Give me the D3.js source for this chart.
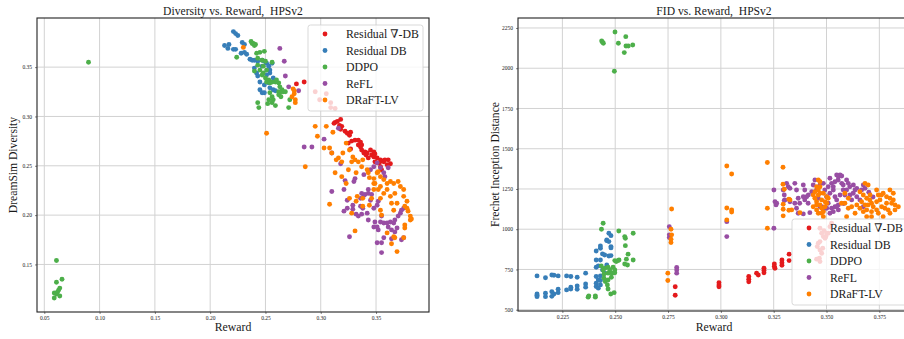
<!DOCTYPE html>
<html>
<head>
<meta charset="utf-8">
<script src="https://cdn.jsdelivr.net/npm/d3@7"></script>
<style>
  html, body { margin: 0; padding: 0; background: #fff; }
  svg { display: block; }
  text { font-family: "Liberation Serif", "DejaVu Serif", serif; fill: #1a1a1a; }
</style>
</head>
<body>
<svg id="chart" width="904" height="339"></svg>
<script>
// ---------- series names and colours ----------
const seriesNames = ["Residual \u2207-DB", "Residual DB", "DDPO", "ReFL", "DRaFT-LV"];
const seriesColors = ["#e41a1c", "#377eb8", "#4daf4a", "#984ea3", "#ff7f00"];

// ---------- Diversity vs. Reward: [reward, DreamSim diversity] ----------
const divResGradDB = [
  [0.278,0.333],[0.285,0.335],[0.295,0.325],[0.305,0.323],[0.299,0.317],[0.309,0.314],[0.309,0.309],[0.313,0.308],
  [0.318,0.297],[0.315,0.295],[0.313,0.294],[0.312,0.293],[0.317,0.291],[0.319,0.290],[0.318,0.287],[0.322,0.285],
  [0.324,0.283],[0.327,0.284],[0.326,0.281],[0.325,0.273],[0.328,0.275],[0.331,0.276],[0.334,0.276],[0.336,0.274],
  [0.334,0.271],[0.337,0.271],[0.336,0.269],[0.327,0.267],[0.337,0.266],[0.340,0.264],[0.339,0.263],[0.341,0.261],
  [0.342,0.263],[0.345,0.266],[0.348,0.264],[0.346,0.261],[0.349,0.262],[0.348,0.259],[0.351,0.258],[0.354,0.256],
  [0.355,0.255],[0.353,0.253],[0.357,0.254],[0.361,0.256],[0.363,0.252],[0.360,0.251],[0.343,0.258],[0.354,0.249],
  [0.355,0.246],[0.349,0.254],[0.351,0.253],[0.358,0.256]
];
const divResDB = [
  [0.221,0.386],[0.223,0.384],[0.225,0.382],[0.213,0.372],[0.217,0.373],[0.221,0.368],[0.223,0.368],[0.229,0.375],
  [0.231,0.373],[0.228,0.364],[0.231,0.365],[0.233,0.363],[0.236,0.358],[0.238,0.357],[0.240,0.357],[0.243,0.356],
  [0.247,0.357],[0.249,0.356],[0.251,0.354],[0.253,0.351],[0.254,0.347],[0.240,0.349],[0.242,0.344],[0.243,0.341],
  [0.245,0.335],[0.251,0.342],[0.254,0.344],[0.257,0.339],[0.245,0.327],[0.247,0.324],[0.249,0.324],[0.254,0.329],
  [0.257,0.327],[0.259,0.326],[0.253,0.334],[0.249,0.332],[0.247,0.351],[0.256,0.354],[0.216,0.369]
];
const divDDPO = [
  [0.090,0.355],[0.061,0.154],[0.061,0.132],[0.066,0.135],[0.064,0.126],[0.063,0.124],[0.059,0.121],[0.061,0.120],
  [0.064,0.118],[0.059,0.116],[0.062,0.122],
  [0.237,0.376],[0.238,0.374],[0.240,0.372],[0.239,0.374],[0.241,0.373],[0.224,0.360],[0.242,0.364],[0.245,0.365],
  [0.249,0.366],[0.243,0.359],[0.247,0.357],[0.250,0.356],[0.256,0.355],[0.240,0.346],[0.243,0.352],[0.248,0.351],
  [0.251,0.347],[0.245,0.347],[0.247,0.342],[0.248,0.344],[0.250,0.339],[0.251,0.335],[0.253,0.337],[0.254,0.334],
  [0.256,0.335],[0.259,0.335],[0.262,0.334],[0.260,0.337],[0.263,0.330],[0.265,0.327],[0.266,0.325],[0.268,0.325],
  [0.263,0.324],[0.262,0.325],[0.254,0.324],[0.256,0.320],[0.253,0.317],[0.257,0.317],[0.243,0.314],[0.244,0.309],
  [0.252,0.313],[0.256,0.314],[0.259,0.311],[0.271,0.309],[0.264,0.320],[0.262,0.322],[0.272,0.317]
];
const divReFL = [
  [0.263,0.369],[0.267,0.356],[0.268,0.341],[0.271,0.330],[0.280,0.326],[0.285,0.269],[0.292,0.269],[0.303,0.277],
  [0.310,0.263],[0.316,0.288],[0.318,0.252],[0.322,0.235],[0.321,0.226],[0.324,0.215],[0.321,0.204],[0.310,0.224],
  [0.326,0.178],[0.324,0.207],[0.329,0.206],[0.329,0.210],[0.332,0.201],[0.334,0.199],[0.336,0.209],[0.338,0.207],
  [0.336,0.217],[0.339,0.220],[0.343,0.222],[0.346,0.221],[0.345,0.215],[0.348,0.207],[0.349,0.193],[0.351,0.188],
  [0.352,0.185],[0.354,0.193],[0.357,0.192],[0.360,0.192],[0.363,0.193],[0.366,0.192],[0.351,0.172],[0.355,0.172],
  [0.355,0.162],[0.357,0.177],[0.364,0.185],[0.367,0.183],[0.369,0.187],[0.373,0.175],[0.375,0.177],[0.337,0.201],
  [0.342,0.202],[0.343,0.195],[0.351,0.210],[0.352,0.214],[0.355,0.199],[0.361,0.188],[0.367,0.195],[0.370,0.199],
  [0.372,0.202],[0.373,0.205],[0.375,0.207],[0.348,0.188],[0.337,0.222],[0.340,0.221],[0.343,0.226],[0.330,0.234],
  [0.331,0.237],[0.339,0.241],[0.345,0.246],[0.348,0.249],[0.351,0.253],[0.354,0.248],[0.357,0.243],[0.358,0.239],
  [0.361,0.248],[0.364,0.176]
];
const divDRaFT = [
  [0.230,0.370],[0.275,0.328],[0.276,0.323],[0.274,0.320],[0.277,0.317],[0.277,0.314],[0.276,0.326],[0.251,0.283],
  [0.286,0.249],[0.295,0.290],[0.305,0.290],[0.297,0.280],[0.303,0.268],[0.311,0.284],[0.308,0.268],[0.314,0.256],
  [0.320,0.263],[0.323,0.273],[0.326,0.266],[0.329,0.259],[0.328,0.254],[0.325,0.246],[0.313,0.243],[0.319,0.239],
  [0.323,0.232],[0.332,0.243],[0.337,0.249],[0.338,0.256],[0.342,0.246],[0.344,0.238],[0.348,0.232],[0.351,0.243],
  [0.354,0.239],[0.354,0.229],[0.357,0.222],[0.360,0.226],[0.363,0.234],[0.363,0.219],[0.364,0.212],[0.366,0.205],
  [0.367,0.222],[0.369,0.212],[0.372,0.229],[0.375,0.219],[0.376,0.209],[0.378,0.214],[0.379,0.204],[0.381,0.195],
  [0.376,0.190],[0.376,0.187],[0.366,0.178],[0.367,0.177],[0.364,0.171],[0.360,0.182],[0.369,0.163],[0.331,0.184],
  [0.328,0.202],[0.338,0.209],[0.332,0.214],[0.308,0.211],[0.344,0.210],[0.326,0.217],[0.333,0.219],[0.346,0.217],
  [0.354,0.205],[0.355,0.200],[0.378,0.207],[0.381,0.199],[0.382,0.196],[0.375,0.177],[0.310,0.263],[0.316,0.258],
  [0.319,0.254],[0.331,0.256],[0.334,0.254],[0.343,0.243],[0.348,0.237],[0.352,0.244],[0.349,0.232],[0.357,0.236],
  [0.360,0.232],[0.366,0.232],[0.370,0.234],[0.375,0.226],[0.348,0.226],[0.352,0.226],[0.338,0.217],[0.354,0.217]
];

// ---------- FID vs. Reward: [reward, Frechet Inception Distance] ----------
const fidResGradDB = [
  [0.2784,643],[0.2784,590],[0.2991,668],[0.2991,653],[0.2991,643],[0.3132,706],[0.3132,689],[0.3132,674],
  [0.3169,727],[0.3177,716],[0.3204,758],[0.3204,743],[0.3204,730],[0.3253,784],[0.3253,768],[0.3256,758],
  [0.3289,809],[0.3289,792],[0.3289,776],[0.3323,845],[0.3323,805],
  [0.3469,1006],[0.3477,975],[0.3485,954],[0.3469,923],[0.3461,913],[0.3456,892],[0.3469,871],[0.3482,882],
  [0.3493,944],[0.3497,954],[0.3501,975],[0.3488,991],[0.3477,851],[0.3466,820],[0.3453,814],[0.3469,799],
  [0.3508,975],[0.3516,1016],[0.3524,1037]
];
const fidResDB = [
  [0.213,710],[0.217,699],[0.220,716],[0.221,714],[0.223,710],[0.227,710],[0.229,706],[0.232,702],[0.236,727],
  [0.213,598],[0.213,581],[0.213,590],[0.217,602],[0.217,581],[0.220,612],[0.221,598],[0.220,583],[0.223,627],
  [0.223,606],[0.227,623],[0.229,629],[0.229,640],[0.232,648],[0.232,627],[0.236,660],[0.236,640],[0.241,706],
  [0.242,685],[0.241,665],[0.241,644],[0.242,634],[0.243,710],[0.243,681],[0.243,654],[0.241,764],[0.242,772],
  [0.241,809],[0.243,809],[0.241,865],[0.243,882],[0.243,896],[0.244,847],[0.245,840],[0.247,834],[0.248,836],
  [0.246,933],[0.247,975],[0.248,960],[0.244,747],[0.245,727],[0.246,778],[0.246,929],[0.247,923],[0.248,892],
  [0.248,884]
];
const fidDDPO = [
  [0.2436,2169],[0.2444,2155],[0.2440,2162],[0.2499,2225],[0.2550,2196],[0.2515,2155],[0.2551,2138],[0.2562,2138],
  [0.2583,2144],[0.2543,2097],[0.2496,1981],
  [0.2443,1037],[0.2435,1000],[0.2517,989],[0.2585,975],[0.2548,944],[0.2545,954],[0.2548,898],[0.2561,845],
  [0.2553,814],[0.2585,809],[0.2545,784],[0.2558,778],[0.2498,805],[0.2505,799],[0.2513,805],[0.2518,809],
  [0.2434,772],[0.2443,747],[0.2451,758],[0.2466,764],[0.2474,747],[0.2490,764],[0.2498,747],[0.2498,730],
  [0.2485,727],[0.2466,727],[0.2447,722],[0.2447,696],[0.2453,675],[0.2463,654],[0.2466,685],[0.2482,702],
  [0.2466,629],[0.2479,598],[0.2372,578],[0.2375,586],[0.2406,586],[0.2406,578],[0.2495,606]
];
const fidReFL = [
  [0.2756,1016],[0.2756,965],[0.2756,948],[0.2791,762],[0.2791,747],[0.2791,727],[0.3028,1047],[0.3028,954],
  [0.3251,1244],[0.3251,1006],[0.3256,1171],[0.3264,1161],[0.3261,1151],[0.3300,1213],[0.3300,1178],
  [0.3295,1244],[0.3303,1182],[0.3327,1171],[0.3350,1285],[0.3358,1244],[0.3366,1192],[0.3373,1161],[0.3390,1275],
  [0.3397,1244],[0.3406,1202],[0.3413,1161],[0.3437,1275],[0.3445,1306],[0.3453,1244],[0.3461,1192],[0.3469,1140],
  [0.3485,1285],[0.3492,1244],[0.3500,1202],[0.3508,1161],[0.3516,1317],[0.3524,1285],[0.3532,1244],[0.3540,1202],
  [0.3548,1337],[0.3555,1306],[0.3564,1337],[0.3572,1285],[0.3579,1244],[0.3587,1213],[0.3595,1306],[0.3603,1285],
  [0.3610,1264],[0.3619,1182],[0.3626,1223],[0.3635,1244],[0.3643,1202],[0.3658,1182],[0.3666,1244],[0.3674,1140],
  [0.3524,1130],[0.3540,1140],[0.3556,1151],[0.3485,1120],[0.3311,1285],[0.3319,1264],[0.3327,1254],[0.3350,1161],
  [0.3358,1130],[0.3366,1099],[0.3390,1202],[0.3397,1182],[0.3390,1095],[0.3421,1103],[0.3477,1140],[0.3501,1130],
  [0.3516,1099],[0.3532,1109],[0.3548,1140],[0.3556,1120],[0.3556,1327],[0.3572,1331],[0.3674,1275],[0.3682,1254],
  [0.3516,1223],[0.3532,1264],[0.3548,1182],[0.3564,1213],[0.3579,1275],[0.3595,1244],[0.3611,1213],[0.3627,1275],
  [0.3643,1254],[0.3540,1295],[0.3508,1264],[0.3469,1275],[0.3430,1233],[0.3414,1213],[0.3580,1160],[0.3700,1230],
  [0.3720,1200]
];
const fidDRaFT = [
  [0.2767,1126],[0.2764,1000],[0.2767,965],[0.2764,938],[0.2764,917],[0.2749,727],[0.2749,681],[0.3028,1393],
  [0.3051,1343],[0.3028,1132],[0.3051,1120],[0.3051,1107],[0.3028,1058],[0.3220,1414],[0.3220,1130],[0.3220,1006],
  [0.3294,1385],[0.3294,1279],[0.3300,1248],[0.3295,1155],[0.3295,1124],[0.3295,1083],[0.3322,1186],[0.3322,1118],
  [0.3327,1182],[0.3335,1120],[0.3374,1103],
  [0.3453,1264],[0.3461,1244],[0.3469,1223],[0.3445,1192],[0.3453,1171],[0.3469,1151],[0.3437,1140],[0.3453,1120],
  [0.3477,1130],[0.3485,1109],[0.3461,1099],[0.3493,1171],[0.3501,1202],[0.3508,1192],[0.3485,1223],[0.3461,1306],
  [0.3469,1295],[0.3587,1223],[0.3603,1192],[0.3595,1078],[0.3485,1078],
  [0.3682,1285],[0.3697,1275],[0.3658,1233],[0.3674,1213],[0.3690,1192],[0.3705,1182],[0.3666,1171],[0.3682,1151],
  [0.3697,1151],[0.3713,1161],[0.3721,1140],[0.3737,1171],[0.3753,1182],[0.3745,1213],[0.3768,1223],[0.3784,1202],
  [0.3800,1192],[0.3816,1223],[0.3808,1161],[0.3824,1151],[0.3776,1130],[0.3761,1140],[0.3737,1120],[0.3713,1109],
  [0.3690,1120],[0.3674,1109],[0.3658,1130],[0.3643,1151],[0.3690,1078],[0.3713,1078],[0.3784,1161],[0.3792,1120],
  [0.3824,1120],[0.3800,1099],
  [0.3445,1233],[0.3461,1213],[0.3477,1182],[0.3469,1264],[0.3493,1140],[0.3477,1099],[0.3501,1161],[0.3453,1151],
  [0.3437,1213],[0.3571,1161],[0.3619,1140],[0.3635,1099],[0.3603,1130],[0.3587,1161],[0.3737,1244],[0.3760,1213],
  [0.3800,1244],[0.3706,1213],[0.3745,1099],[0.3768,1078],[0.3816,1182],[0.3840,1140]
];

// ---------- axis ticks ----------
const divXTicks = [0.05, 0.10, 0.15, 0.20, 0.25, 0.30, 0.35];
const divYTicks = [0.15, 0.20, 0.25, 0.30, 0.35];
const fidXTicks = [0.225, 0.250, 0.275, 0.300, 0.325, 0.350, 0.375];
const fidYTicks = [500, 750, 1000, 1250, 1500, 1750, 2000, 2250];

const svg = d3.select("#chart");

function drawPanel(cfg) {
  const { left, right, top, bottom } = cfg.box;
  const x = d3.scaleLinear().domain(cfg.xDomain).range([left, right]);
  const y = d3.scaleLinear().domain(cfg.yDomain).range([bottom, top]);
  const g = svg.append("g");

  // grid
  g.append("g").selectAll("line").data(cfg.xTicks).join("line")
    .attr("x1", d => x(d)).attr("x2", d => x(d)).attr("y1", top).attr("y2", bottom)
    .attr("stroke", "#d2d2d2").attr("stroke-width", 1);
  g.append("g").selectAll("line").data(cfg.yTicks).join("line")
    .attr("x1", left).attr("x2", right).attr("y1", d => y(d)).attr("y2", d => y(d))
    .attr("stroke", "#d2d2d2").attr("stroke-width", 1);

  // axes
  const xAxis = d3.axisBottom(x).tickValues(cfg.xTicks).tickFormat(cfg.xFmt)
    .tickSizeInner(2).tickSizeOuter(0).tickPadding(2);
  const yAxis = d3.axisLeft(y).tickValues(cfg.yTicks).tickFormat(cfg.yFmt)
    .tickSizeInner(2).tickSizeOuter(0).tickPadding(3);
  const gx = g.append("g").attr("transform", `translate(0,${bottom})`).call(xAxis);
  const gy = g.append("g").attr("transform", `translate(${left},0)`).call(yAxis);
  [gx, gy].forEach(a => {
    a.select(".domain").remove();
    a.selectAll(".tick line").attr("stroke", "#333").attr("stroke-width", 0.6);
    a.selectAll(".tick text").style("font-family", "Liberation Serif, serif")
      .style("font-size", "5.5px").attr("fill", "#222");
  });

  // points, one layer per method
  const layers = g.append("g");
  cfg.series.forEach((pts, i) => {
    layers.append("g").selectAll("circle").data(pts).join("circle")
      .attr("cx", d => x(d[0])).attr("cy", d => y(d[1])).attr("r", 2.45)
      .attr("fill", seriesColors[i]);
  });

  // frame
  g.append("rect").attr("x", left).attr("y", top)
    .attr("width", right - left).attr("height", bottom - top)
    .attr("fill", "none").attr("stroke", "#222").attr("stroke-width", 1.1);

  // title and axis labels
  g.append("text").attr("x", (left + right) / 2).attr("y", 15)
    .attr("text-anchor", "middle").style("font-size", "11.6px").style("white-space", "pre")
    .text(cfg.title);
  g.append("text").attr("x", (left + right) / 2).attr("y", 331)
    .attr("text-anchor", "middle").style("font-size", "11.8px").text("Reward");
  g.append("text")
    .attr("transform", `translate(${cfg.yLabelX},${(top + bottom) / 2}) rotate(-90)`)
    .attr("text-anchor", "middle").attr("dominant-baseline", "central")
    .style("font-size", "11.6px").text(cfg.yLabel);

  // legend
  const lg = g.append("g").attr("transform", `translate(${cfg.legend[0]},${cfg.legend[1]})`);
  lg.append("rect").attr("width", 115).attr("height", 86).attr("rx", 2.5)
    .attr("fill", "#fff").attr("fill-opacity", 0.8)
    .attr("stroke", "#cfcfcf").attr("stroke-width", 0.8);
  seriesNames.forEach((name, i) => {
    const row = lg.append("g").attr("transform", `translate(0,${9 + i * 16.5})`);
    row.append("circle").attr("cx", 17).attr("cy", 0).attr("r", 2.4).attr("fill", seriesColors[i]);
    row.append("text").attr("x", 38).attr("y", 0).attr("dominant-baseline", "central")
      .style("font-size", "11.8px").text(name);
  });
}

drawPanel({
  box: { left: 37, right: 429, top: 18, bottom: 312 },
  xDomain: [0.0434, 0.3979], yDomain: [0.1018, 0.3998],
  xTicks: divXTicks, yTicks: divYTicks,
  xFmt: d3.format(".2f"), yFmt: d3.format(".2f"),
  series: [divResGradDB, divResDB, divDDPO, divReFL, divDRaFT],
  title: "Diversity vs. Reward,  HPSv2", yLabel: "DreamSim Diversity", yLabelX: 13,
  legend: [308, 25]
});

drawPanel({
  box: { left: 518, right: 910, top: 18, bottom: 311 },
  xDomain: [0.2040, 0.3895], yDomain: [492, 2312],
  xTicks: fidXTicks, yTicks: fidYTicks,
  xFmt: d3.format(".3f"), yFmt: d3.format("d"),
  series: [fidResGradDB, fidResDB, fidDDPO, fidReFL, fidDRaFT],
  title: "FID vs. Reward,  HPSv2", yLabel: "Frechet Inception Distance", yLabelX: 495,
  legend: [792, 219]
});
</script>
</body>
</html>
